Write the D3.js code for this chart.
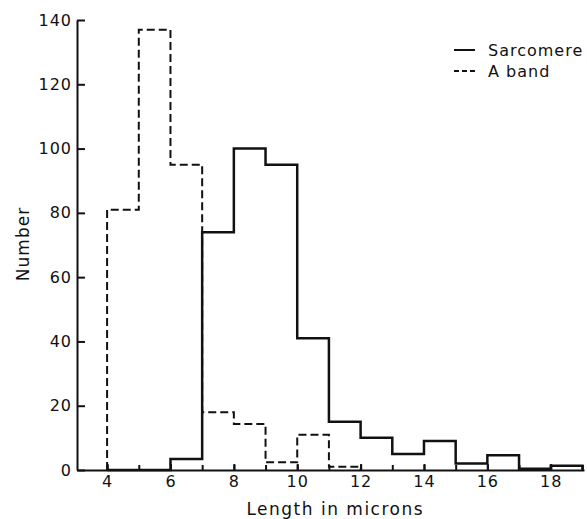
<!DOCTYPE html>
<html>
<head>
<meta charset="utf-8">
<script src="https://cdn.jsdelivr.net/npm/d3@7"></script>
<style>
  body { margin: 0; background: #fff; }
  text { font-family: "DejaVu Sans", sans-serif; fill: #111; }
  .axis path, .axis line { stroke: #111; stroke-width: 2; }
  .axis text { font-size: 16px; letter-spacing: 1px; }
  .hist { fill: none; stroke: #111; }
</style>
</head>
<body>
<div id="chart"></div>
<script>
// bin edges (microns), bins are 1 micron wide
const binStarts = [4, 5, 6, 7, 8, 9, 10, 11, 12, 13, 14, 15, 16, 17, 18];
const sarcomere = [0, 0, 3.4, 74, 100, 95, 41, 15, 10, 5, 9, 2, 4.6, 0.4, 1.3];
const aBand = [81, 137, 95, 18, 14.3, 2.4, 11, 1, 0, 0, 0, 0, 0, 0, 0];
const xTicks = [4, 6, 8, 10, 12, 14, 16, 18];
const xMinorTicks = d3.range(4, 20);
const yTicks = [0, 20, 40, 60, 80, 100, 120, 140];

const W = 587, H = 519;
const margin = {top: 20, right: 3, bottom: 49, left: 77};
const width = W - margin.left - margin.right,
  height = H - margin.top - margin.bottom;

const svg = d3.select("#chart")
  .append("svg")
  .attr("width", W)
  .attr("height", H)
  .append("g")
  .attr("transform", `translate(${margin.left}, ${margin.top})`);

const x = d3.scaleLinear()
  .domain([3.05, 19.05])
  .range([0, width]);

const y = d3.scaleLinear()
  .domain([0, 140])
  .range([height, 0]);

// minor ticks every micron, pointing inward
svg.append("g")
  .attr("class", "axis")
  .attr("transform", `translate(0, ${height})`)
  .call(d3.axisBottom(x).tickValues(xMinorTicks).tickSize(-5).tickFormat(""))
  .call(g => g.select(".domain").remove());

svg.append("g")
  .attr("class", "axis")
  .attr("transform", `translate(0, ${height})`)
  .call(d3.axisBottom(x)
    .tickValues(xTicks)
    .tickSize(-6)
    .tickSizeOuter(0)
    .tickPadding(6)
    .tickFormat(d3.format("d")));

svg.append("g")
  .attr("class", "axis")
  .call(d3.axisLeft(y)
    .tickValues(yTicks)
    .tickSize(-8)
    .tickSizeOuter(0)
    .tickPadding(5));

svg.append("text")
  .attr("text-anchor", "middle")
  .attr("x", x(11.2))
  .attr("y", height + 45)
  .style("font-size", "17px")
  .style("letter-spacing", "1.5px")
  .text("Length in microns");

svg.append("text")
  .attr("text-anchor", "middle")
  .attr("transform", "rotate(-90)")
  .attr("x", -(244 - margin.top))
  .attr("y", -48)
  .style("font-size", "17px")
  .style("letter-spacing", "1px")
  .text("Number");

// histogram outline as a stepped line, ending after the last non-empty bin
function outline(values) {
  let n = values.length;
  while (n > 1 && values[n - 1] === 0) n--;
  const pts = [[binStarts[0], 0]];
  for (let i = 0; i < n; i++) pts.push([binStarts[i], values[i]]);
  const last = binStarts[n - 1] + 1;
  pts.push([last, values[n - 1]]);
  pts.push([last, 0]);
  return pts;
}

const line = d3.line()
  .x(d => x(d[0]))
  .y(d => y(d[1]))
  .curve(d3.curveStepAfter);

svg.append("path")
  .attr("class", "hist")
  .attr("d", line(outline(aBand)))
  .attr("stroke-width", 2)
  .attr("stroke-dasharray", "8,4");

svg.append("path")
  .attr("class", "hist")
  .attr("d", line(outline(sarcomere)))
  .attr("stroke-width", 2.5);

// legend
const legend = svg.append("g")
  .attr("transform", `translate(${454 - margin.left}, ${50 - margin.top})`);
const items = [
  {label: "Sarcomere", dash: null},
  {label: "A band", dash: "5,3"}
];
items.forEach((d, i) => {
  legend.append("line")
    .attr("x1", 0).attr("x2", 21)
    .attr("y1", i * 21).attr("y2", i * 21)
    .attr("stroke", "#111")
    .attr("stroke-width", 2)
    .attr("stroke-dasharray", d.dash);
  legend.append("text")
    .attr("x", 34)
    .attr("y", i * 21 + 6)
    .style("font-size", "16px")
    .style("letter-spacing", "1px")
    .text(d.label);
});
</script>
</body>
</html>
